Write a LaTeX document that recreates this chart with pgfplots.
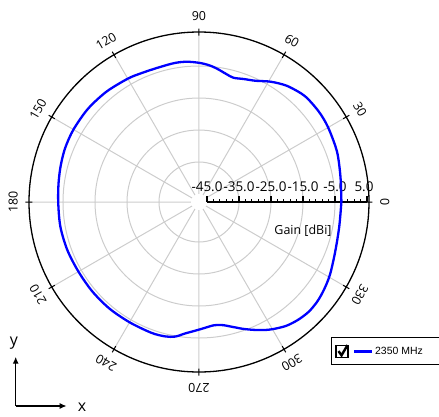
\documentclass[border=0pt]{standalone}
\usepackage{pgfplots}
\pgfplotsset{compat=1.18}
\usepgfplotslibrary{polar}
\usetikzlibrary{arrows.meta}
\usepackage{fontspec}
\setmainfont{Open Sans}
\newfontfamily\arialfont{Liberation Sans}
\begin{document}
\begin{tikzpicture}
\path[use as bounding box] (-199bp,-215bp) rectangle (240bp,202bp);
\begin{polaraxis}[
  at={(0,0)}, anchor=center,
  scale only axis, width=340bp, height=340bp,
  ymin=0, ymax=53.125,
  xtick={0,30,...,330}, xticklabels={},
  ytick={12.5,22.5,32.5,42.5}, yticklabels={},
  grid=major,
  major grid style={black!20, line width=1bp},
  axis line style={black, line width=1.3bp},
  y axis line style={draw=none},
  ytick style={draw=none},
  xtick style={black, line width=1bp},
  tick align=center, major tick length=7bp,
  clip=false,
  legend style={at={(0.888,0.103)}, anchor=north west, draw=black, line width=0.8bp,
    font=\arialfont\fontsize{10.5}{12}\selectfont, inner xsep=4bp, inner ysep=6.5bp},
  legend image code/.code={
    \draw[black, line width=1.4bp] (0bp,-6bp) rectangle (12bp,6bp);
    \draw[black, line width=2.4bp] (2.5bp,0.5bp) -- (5.5bp,-3.8bp) -- (11.5bp,6.5bp);
    \draw[#1] (18bp,0bp) -- (36bp,0bp);
  },
]
% white centre disc where spokes stop
\fill[white] (axis cs:0,0) circle[radius=8bp];
% angle labels
\pgfplotsinvokeforeach{0,30,...,330}{
  \node[rotate=#1-90, font=\fontsize{12.5}{14}\selectfont, inner sep=0pt] at (axis cs:#1,58.1) {#1};
}
% radial gain scale
\draw[black, line width=2.6bp] (axis cs:0,2.5) -- (axis cs:0,52.5);
\pgfplotsinvokeforeach{2.5,12.5,22.5,32.5,42.5,52.5}{
  \draw[black, line width=1.2bp] (axis cs:0,#1) -- ++(0bp,6.5bp);
}
\pgfplotsinvokeforeach{4.5,6.5,8.5,10.5,14.5,16.5,18.5,20.5,24.5,26.5,28.5,30.5,34.5,36.5,38.5,40.5,44.5,46.5,48.5,50.5}{
  \draw[black, line width=1bp] (axis cs:0,#1) -- ++(0bp,3.5bp);
}
\node[anchor=base, font=\fontsize{13.5}{15}\selectfont, inner sep=0pt] at ([yshift=11bp]axis cs:0,2.5) {-45.0};
\node[anchor=base, font=\fontsize{13.5}{15}\selectfont, inner sep=0pt] at ([yshift=11bp]axis cs:0,12.5) {-35.0};
\node[anchor=base, font=\fontsize{13.5}{15}\selectfont, inner sep=0pt] at ([yshift=11bp]axis cs:0,22.5) {-25.0};
\node[anchor=base, font=\fontsize{13.5}{15}\selectfont, inner sep=0pt] at ([yshift=11bp]axis cs:0,32.5) {-15.0};
\node[anchor=base, font=\fontsize{13.5}{15}\selectfont, inner sep=0pt] at ([yshift=11bp]axis cs:0,42.5) {-5.0};
\node[anchor=base, font=\fontsize{13.5}{15}\selectfont, inner sep=0pt] at ([yshift=11bp,xshift=-3bp]axis cs:0,52.5) {5.0};
\node[font=\fontsize{12.5}{14}\selectfont, inner sep=0pt] at ([shift={(104bp,-29bp)}]axis cs:0,0) {Gain [dBi]};
\addplot[color={rgb,255:red,0;green,0;blue,255}, line width=2.3bp, smooth] table[x=a, y expr=\thisrow{g}+47.5] {
a g
0 -3.0
10 -2.6
20 -1.6
30 -0.9
37 -0.6
45 -0.7
52 -1.8
56 -2.8
60 -4.0
65 -5.7
70 -6.6
74.5 -7.2
78 -6.6
82.5 -5.4
86 -4.6
90 -4.0
95 -3.5
100 -3.4
107 -3.6
114 -3.4
120 -3.0
130 -2.5
140 -2.2
150 -2.2
158 -2.4
165 -2.8
172 -3.2
180 -3.5
190 -3.5
200 -3.7
210 -4.0
220 -4.0
230 -4.0
240 -4.1
250 -4.0
256 -4.2
260 -4.8
264 -6.2
268 -7.2
272 -8.0
277 -8.7
281 -8.3
285 -7.1
289 -5.6
293 -4.1
297 -2.6
300 -1.6
305 -0.2
310 0.6
315 1.0
320 0.8
325 0.2
331 -0.7
340 -2.2
350 -3.0
360 -3.0
};
\addlegendentry{2350 MHz\rule{12bp}{0pt}}
\end{polaraxis}
% x-y orientation marker
\draw[black, line width=1.6bp, -{Latex[length=7bp,width=6bp]}] (-183.3bp,-204bp) -- (-183.3bp,-154.7bp);
\draw[black, line width=1.6bp, -{Latex[length=7bp,width=6bp]}] (-183.3bp,-204bp) -- (-132.3bp,-204bp);
\node[font=\fontsize{16}{18}\selectfont, inner sep=0pt] at (-185bp,-141bp) {y};
\node[font=\fontsize{16}{18}\selectfont, inner sep=0pt] at (-117bp,-205bp) {x};
\end{tikzpicture}
\end{document}
